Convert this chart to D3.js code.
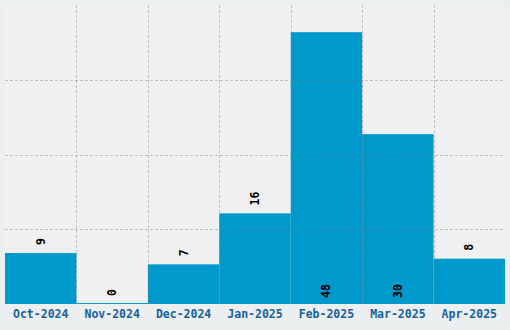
<!DOCTYPE html>
<html lang="en">
<head>
  <meta charset="UTF-8">
  <title>Monthly chart</title>
  <script src="https://d3js.org/d3.v7.min.js"></script>
  <style>
    html, body { margin: 0; padding: 0; background: #eceff0; }
    svg { display: block; }
  </style>
</head>
<body>
  <svg id="chart"></svg>
  <script>
    const months = ["Oct-2024", "Nov-2024", "Dec-2024", "Jan-2025", "Feb-2025", "Mar-2025", "Apr-2025"];
    const counts = [9, 0, 7, 16, 48, 30, 8];

    const FONT = "'DejaVu Sans Mono', 'Liberation Mono', monospace";
    const W = 510, H = 330;
    const margin = { top: 5, right: 5, bottom: 26, left: 5 };
    const w = W - margin.left - margin.right;
    const h = H - margin.top - margin.bottom;

    const svg = d3.select("#chart").attr("width", W).attr("height", H);
    const g = svg.append("g").attr("transform", `translate(${margin.left},${margin.top})`);

    // plot background
    g.append("rect").attr("width", w).attr("height", h).attr("fill", "#f0f0f0");

    const x = d3.scaleBand().domain(months).range([0, w]).padding(0);
    const maxV = d3.max(counts);
    const y = d3.scaleLinear().domain([0, maxV * 1.1]).range([h, 0]);

    const data = months.map((m, i) => ({ m, v: counts[i] }));

    // bars (zero values still get a 1px line)
    g.append("g").selectAll("rect")
      .data(data)
      .join("rect")
      .attr("x", d => x(d.m))
      .attr("y", d => Math.min(y(d.v), h - 1))
      .attr("width", x.bandwidth())
      .attr("height", d => Math.max(h - y(d.v), 1))
      .attr("fill", "#0099cc");

    // grid on top of bars
    const grid = g.append("g").attr("stroke", "#777").attr("stroke-opacity", 0.4)
      .attr("stroke-dasharray", "3,2").attr("shape-rendering", "crispEdges");
    grid.selectAll("line.v")
      .data(months.slice(1))
      .join("line")
      .attr("class", "v")
      .attr("x1", d => Math.round(x(d)) + 0.5).attr("x2", d => Math.round(x(d)) + 0.5)
      .attr("y1", 0).attr("y2", h);
    const yTicks = d3.range(1, 4).map(k => y.domain()[1] * k / 4);
    grid.selectAll("line.h")
      .data(yTicks)
      .join("line")
      .attr("class", "h")
      .attr("x1", 0).attr("x2", w)
      .attr("y1", d => Math.round(y(d)) + 0.5).attr("y2", d => Math.round(y(d)) + 0.5);

    // value labels
    g.append("g").selectAll("text")
      .data(data)
      .join("text")
      .attr("transform", d => {
        const cx = x(d.m) + x.bandwidth() / 2;
        const cy = d.v > maxV / 2 ? h - 6 : y(d.v) - 8;
        return `translate(${cx},${cy}) rotate(-90)`;
      })
      .attr("dominant-baseline", "central")
      .attr("text-anchor", "start")
      .attr("font-family", FONT)
      .attr("font-weight", "bold")
      .attr("font-size", "11.5px")
      .attr("fill", "#000")
      .text(d => d.v);

    // x axis labels
    const xAxis = g.append("g")
      .attr("transform", `translate(0,${h})`)
      .call(d3.axisBottom(x).tickSize(0).tickPadding(6))
      .attr("font-family", FONT)
      .attr("font-size", "11.5px")
      .attr("font-weight", "bold");
    xAxis.select(".domain").remove();
    xAxis.selectAll("text").attr("fill", "#1a60a0");
  </script>
</body>
</html>
